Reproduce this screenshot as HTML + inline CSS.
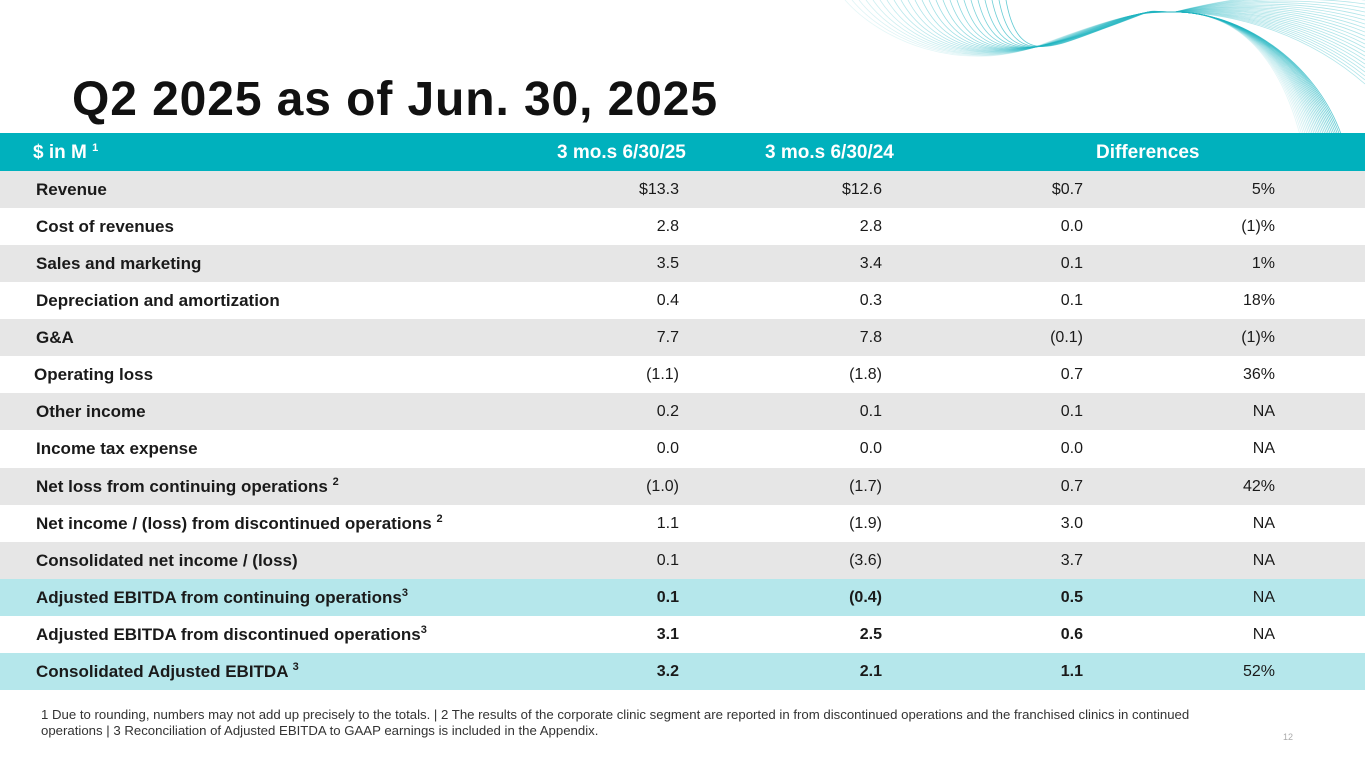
<!DOCTYPE html>
<html><head><meta charset="utf-8"><style>
body{margin:0;width:1365px;height:768px;overflow:hidden;background:#fff;font-family:"Liberation Sans",sans-serif;position:relative}
.t{position:absolute;left:72px;top:72px;font-size:48px;font-weight:bold;color:#111;letter-spacing:0.9px}
.hdr{position:absolute;left:0;top:133px;width:1365px;height:38px;background:#00b1bd;color:#fff;font-weight:bold;font-size:19px}
.hdr span{position:absolute;top:9px}
.row{position:absolute;left:0;width:1365px;height:37px;font-size:16px;color:#1a1a1a}
.row span{position:absolute;top:9px;line-height:19px}
.lab{left:36px;font-weight:bold;font-size:17px}
.v{text-align:right;width:120px}
.b{font-weight:bold}
sup{font-size:11px;line-height:0;position:relative;top:-1px;vertical-align:6px}
.foot{position:absolute;left:41px;top:707px;font-size:13.2px;color:#333;line-height:16px;width:1195px}
.pg{position:absolute;left:1283px;top:732px;font-size:9px;color:#aaa}
</style></head><body>
<svg style="position:absolute;left:840px;top:0" width="525" height="135" id="wave"></svg>
<div class="t">Q2 2025 as of Jun. 30, 2025</div>
<div class="hdr">
<span style="left:33px">$ in M <sup>1</sup></span>
<span style="left:557px">3 mo.s 6/30/25</span>
<span style="left:765px">3 mo.s 6/30/24</span>
<span style="left:1096px">Differences</span>
</div>
<div id="rows"></div>
<div class="foot">1 Due to rounding, numbers may not add up precisely to the totals. | 2 The results of the corporate clinic segment are reported in from discontinued operations and the franchised clinics in continued operations | 3 Reconciliation of Adjusted EBITDA to GAAP earnings is included in the Appendix.</div>
<div class="pg">12</div>
<script>
const labels=["Revenue","Cost of revenues","Sales and marketing","Depreciation and amortization","G&amp;A","Operating loss","Other income","Income tax expense","Net loss from continuing operations <sup>2</sup>","Net income / (loss) from discontinued operations <sup>2</sup>","Consolidated net income / (loss)","Adjusted EBITDA from continuing operations<sup>3</sup>","Adjusted EBITDA from discontinued operations<sup>3</sup>","Consolidated Adjusted EBITDA <sup>3</sup>"];
const cur=["$13.3","2.8","3.5","0.4","7.7","(1.1)","0.2","0.0","(1.0)","1.1","0.1","0.1","3.1","3.2"];
const prev=["$12.6","2.8","3.4","0.3","7.8","(1.8)","0.1","0.0","(1.7)","(1.9)","(3.6)","(0.4)","2.5","2.1"];
const diff=["$0.7","0.0","0.1","0.1","(0.1)","0.7","0.1","0.0","0.7","3.0","3.7","0.5","0.6","1.1"];
const pct=["5%","(1)%","1%","18%","(1)%","36%","NA","NA","42%","NA","NA","NA","NA","52%"];
const R=document.getElementById('rows');
labels.forEach((l,i)=>{
 const d=document.createElement('div');
 d.className='row';
 
 
 d.style.top=(171+i*37.07)+'px';
 d.style.background=(i==11||i==13)?'#b5e7eb':(i==12?'#fff':(i%2==0?'#e6e6e6':'#fff'));
 const bold=i>=11?' b':'';
 d.innerHTML=`<span class="lab" style="${i==5?'left:34px':''}">${l}</span>`+
 `<span class="v${bold}" style="left:559px">${cur[i]}</span>`+
 `<span class="v${bold}" style="left:762px">${prev[i]}</span>`+
 `<span class="v${bold}" style="left:963px">${diff[i]}</span>`+
 `<span class="v" style="left:1155px">${pct[i]}</span>`;
 R.appendChild(d);
});
const W=document.getElementById('wave');let s='';
for(let k=0;k<24;k++){
 const op=(0.12+0.025*k).toFixed(2);
 s+=`<path d="M${5+k*7},0 C${40+k*6},${40+k*1.2} ${120+k*4},${75-k*1.2} ${200+k*3},${45-k*0.8} S${300},${12} ${335},${12} C${400},${12} ${440+k*1.5},${60} ${460+k*1.8},135" fill="none" stroke="#1fb4c0" stroke-opacity="${op}" stroke-width="0.8"/>`;
 s+=`<path d="M${335},12 C${400},${-5+k*0.8} ${470},${-10+k*2} ${525},${-8+k*4}" fill="none" stroke="#1fb4c0" stroke-opacity="0.35" stroke-width="0.8"/>`;
}
W.innerHTML=s;
</script>
</body></html>
